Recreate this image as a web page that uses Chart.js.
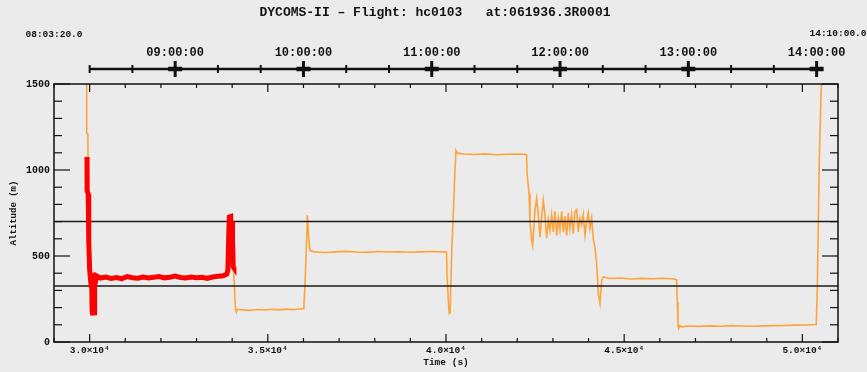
<!DOCTYPE html>
<html>
<head>
<meta charset="utf-8">
<title>DYCOMS-II altitude</title>
<script src="https://cdn.jsdelivr.net/npm/chart.js@4.4.1/dist/chart.umd.min.js"></script>
<style>
  html, body { margin: 0; padding: 0; background: #ebebeb; }
  canvas { display: block; }
</style>
</head>
<body>
<canvas id="altitude-chart" width="867" height="372"></canvas>
<script>
'use strict';

// --- data (time in s since midnight, altitude in m) ---
const titleText = 'DYCOMS-II \u2013 Flight: hc0103   at:061936.3R0001';

const orangeTime = [
  29915, 29918, 29950, 29955, 29975, 30000, 30040, 30100, 33850, 33910, 33970, 34030,
  34065, 34090, 34115, 34140, 34300, 34500, 34700, 34900, 35100, 35300, 35500, 35700,
  35900, 36010, 36040, 36080, 36110, 36150, 36180, 36300, 36600, 36900, 37200, 37500,
  37800, 38100, 38400, 38700, 39000, 39300, 39600, 39900, 40015, 40030, 40060, 40090,
  40115, 40160, 40205, 40250, 40280, 40320, 40500, 40800, 41100, 41400, 41700, 42000,
  42260, 42275, 42330, 42357, 42404, 42432, 42497, 42544, 42590, 42637, 42684, 42730,
  42777, 42825, 42871, 42918, 42965, 43011, 43058, 43105, 43152, 43198, 43245, 43292,
  43339, 43386, 43432, 43479, 43526, 43572, 43619, 43666, 43713, 43760, 43806, 43853,
  43900, 43947, 43993, 44040, 44087, 44133, 44180, 44227, 44274, 44321, 44368, 44414,
  44600, 44900, 45200, 45500, 45800, 46100, 46400, 46470, 46490, 46510, 46530, 46560,
  46600, 46800, 47100, 47400, 47700, 48000, 48300, 48600, 48900, 49200, 49500, 49800,
  50100, 50390, 50418, 50474, 50522, 50578
];
const orangeAlt = [
  1700, 1215, 1210, 1075, 860, 600, 400, 375, 385, 700, 720, 440,
  320, 194, 174, 190, 187, 184, 189, 186, 190, 187, 191, 188,
  192, 194, 322, 533, 737, 600, 533, 524, 520, 524, 527, 523,
  521, 526, 523, 525, 522, 524, 526, 524, 523, 388, 262, 166,
  170, 523, 748, 988, 1114, 1098, 1093, 1090, 1094, 1089, 1092, 1093,
  1090, 980, 864, 698, 591, 560, 765, 835, 740, 610, 720, 824,
  740, 603, 710, 650, 740, 640, 760, 620, 720, 650, 760, 640,
  730, 620, 750, 660, 740, 630, 760, 770, 640, 720, 680, 740,
  620, 700, 750, 660, 720, 600, 550, 457, 283, 224, 358, 378,
  369, 372, 366, 370, 368, 371, 366, 362, 233, 107, 80, 95,
  88, 93, 91, 94, 92, 95, 93, 92, 94, 95, 96, 98,
  99, 102, 300, 1037, 1425, 1700
];

// highlighted (red) leg
const redTime = [
  29925, 29930, 29960, 29975, 30000, 30040, 30055, 30070, 30090, 30110, 30125, 30140,
  30160, 30180, 30300, 30450, 30600, 30750, 30900, 31050, 31200, 31350, 31500, 31650,
  31800, 31950, 32100, 32250, 32400, 32550, 32700, 32850, 33000, 33150, 33300, 33450,
  33600, 33750, 33850, 33880, 33900, 33920, 33960, 33980, 33995, 34010, 34030, 34050
];
const redAlt = [
  1075, 880, 860, 590, 420, 330, 400, 180, 155, 390, 170, 385,
  340, 385, 372, 378, 370, 375, 368, 380, 374, 371, 378, 372,
  376, 380, 373, 377, 383, 375, 372, 378, 374, 376, 370, 378,
  382, 385, 395, 420, 600, 727, 730, 560, 700, 600, 436, 430
];

// horizontal reference levels (m)
const refLevels = [700, 325];

// axis ranges and top clock axis
const timeRange = [29000, 51000];
const altRange = [0, 1500];
const clockAxisRange = [30000, 50550];
const clockHours = [32400, 36000, 39600, 43200, 46800, 50400];
const cornerLabels = ['08:03:20.0', '14:10:00.0'];

const FONT = '"Liberation Mono", "DejaVu Sans Mono", monospace';
const INK = '#111';

function hms(sec) {
  const pad = n => String(n).padStart(2, '0');
  return pad(Math.floor(sec / 3600)) + ':' + pad(Math.floor(sec % 3600 / 60)) + ':' + pad(sec % 60);
}

function toPoints(xs, ys) {
  return xs.map((t, i) => ({ x: t, y: ys[i] }));
}

// box, inward ticks, clock axis and title
const frameDecor = {
  id: 'frameDecor',
  afterDraw(chart) {
    const { ctx, chartArea: a, scales: { x, y } } = chart;
    const line = (x1, y1, x2, y2) => {
      ctx.beginPath(); ctx.moveTo(x1, y1); ctx.lineTo(x2, y2); ctx.stroke();
    };
    ctx.save();
    ctx.strokeStyle = INK;
    ctx.fillStyle = INK;
    ctx.lineWidth = 1.5;
    ctx.strokeRect(a.left, a.top, a.right - a.left, a.bottom - a.top);

    ctx.lineWidth = 1.2;
    x.ticks.forEach(t => {
      const px = x.getPixelForValue(t.value);
      const len = t.value % 5000 === 0 ? 8 : 4;
      line(px, a.bottom, px, a.bottom - len);
      line(px, a.top, px, a.top + len);
    });
    y.ticks.forEach(t => {
      const py = y.getPixelForValue(t.value);
      const len = t.value % 500 === 0 ? 16 : 8;
      line(a.left, py, a.left + len, py);
      line(a.right, py, a.right - len, py);
    });

    // clock axis above the plot
    const yc = 69;
    ctx.lineWidth = 2.5;
    line(x.getPixelForValue(clockAxisRange[0]), yc, x.getPixelForValue(clockAxisRange[1]), yc);
    for (let s = clockAxisRange[0]; s <= clockAxisRange[1]; s += 1200) {
      const px = x.getPixelForValue(s);
      if (s % 3600 === 0) {
        ctx.lineWidth = 3;
        line(px, yc - 8, px, yc + 8);
        ctx.lineWidth = 4.5;
        line(px - 7, yc, px + 7, yc);
      } else {
        ctx.lineWidth = 2;
        line(px, yc - 4, px, yc + 4);
      }
    }
    ctx.textAlign = 'center';
    ctx.textBaseline = 'middle';
    ctx.font = 'bold 12px ' + FONT;
    clockHours.forEach(s => ctx.fillText(hms(s), x.getPixelForValue(s), 53));
    ctx.font = 'bold 9.5px ' + FONT;
    ctx.fillText(cornerLabels[0], x.getPixelForValue(timeRange[0]), 35);
    ctx.fillText(cornerLabels[1], x.getPixelForValue(timeRange[1]), 34);

    ctx.font = 'bold 13px ' + FONT;
    ctx.fillText(titleText, 435, 13);
    ctx.restore();
  }
};

const datasets = [
  {
    label: 'leg',
    data: toPoints(redTime, redAlt),
    borderColor: '#ff0000',
    borderWidth: 5,
    order: 0
  },
  ...refLevels.map(v => ({
    label: 'level ' + v,
    data: toPoints(timeRange, [v, v]),
    borderColor: '#1a1a1a',
    borderWidth: 1.5,
    order: 1
  })),
  {
    label: 'altitude',
    data: toPoints(orangeTime, orangeAlt),
    borderColor: '#ffa33a',
    borderWidth: 1.6,
    order: 2
  }
];

new Chart(document.getElementById('altitude-chart'), {
  type: 'line',
  data: { datasets },
  options: {
    responsive: false,
    animation: false,
    devicePixelRatio: 1,
    elements: { point: { radius: 0 }, line: { tension: 0 } },
    layout: { padding: { left: 0, top: 84, right: 29, bottom: 0 } },
    scales: {
      x: {
        type: 'linear',
        min: timeRange[0],
        max: timeRange[1],
        grid: { display: false, drawTicks: false },
        border: { display: false },
        ticks: {
          stepSize: 1000,
          autoSkip: false,
          maxRotation: 0,
          padding: 3,
          color: INK,
          font: { family: FONT, size: 9.5, weight: 'bold' },
          callback: v => v % 5000 === 0 ? (v / 1e4).toFixed(1) + '\u00d710\u2074' : ''
        },
        title: {
          display: true,
          text: 'Time (s)',
          color: INK,
          font: { family: FONT, size: 9.5, weight: 'bold' },
          padding: { top: 0, bottom: 4 }
        },
        afterFit: s => { s.height = 30; }
      },
      y: {
        min: altRange[0],
        max: altRange[1],
        grid: { display: false, drawTicks: false },
        border: { display: false },
        ticks: {
          stepSize: 100,
          autoSkip: false,
          padding: 4,
          color: INK,
          font: { family: FONT, size: 10, weight: 'bold' },
          callback: v => v % 500 === 0 ? String(v) : ''
        },
        title: {
          display: true,
          text: 'Altitude (m)',
          color: INK,
          font: { family: FONT, size: 9, weight: 'bold' },
          padding: { top: 8, bottom: 0 }
        },
        afterFit: s => { s.width = 54; }
      }
    },
    plugins: {
      legend: { display: false },
      tooltip: { enabled: false }
    }
  },
  plugins: [frameDecor]
});
</script>
</body>
</html>
